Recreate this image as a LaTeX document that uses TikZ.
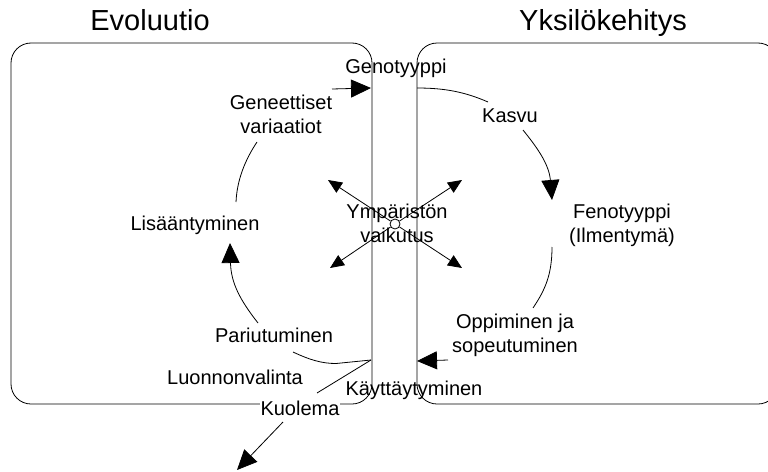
\documentclass[tikz,border=0pt]{standalone}
\usepackage{fontspec}
\setmainfont{Liberation Sans}
\usetikzlibrary{arrows.meta}
\begin{document}
\begin{tikzpicture}[x=1pt,y=-1pt,
  line width=0.8pt,
  panel/.style={draw, rounded corners=20pt},
  title/.style={font=\fontsize{29}{34}\selectfont, anchor=base, inner sep=0pt},
  lbl/.style={font=\fontsize{20}{23.5}\selectfont, anchor=base, inner sep=0pt, align=center},
  bigtip/.style={-{Triangle[length=20pt,width=18pt]}},
  smalltip/.style={-{Triangle[length=14pt,width=12pt]}}
]
\useasboundingbox (0,0) rectangle (768,471);
\clip (0,0) rectangle (768,471);

% the two panels
\draw[panel] (11,43) rectangle (372,404);
\draw[panel] (417,43) rectangle (778,404);

% headings
\node[title] (evo) at (150,30) {Evoluutio};
\node[title] (yks) at (603,30) {Yksilökehitys};

% labels
\node[lbl] (geno) at (396,73) {Genotyyppi};
\node[lbl] (genvar) at (281,133) {Geneettiset\\variaatiot};
\node[lbl] (kasvu) at (510,122) {Kasvu};
\node[lbl] (lisaa) at (195,230) {Lisääntyminen};
\node[lbl] (feno) at (622,242) {Fenotyyppi\\(Ilmentymä)};
\node[lbl] (ymp) at (397,242) {Ympäristön\\vaikutus};
\node[lbl] (oppi) at (515,352) {Oppiminen ja\\sopeutuminen};
\node[lbl] (pari) at (274,342) {Pariutuminen};
\node[lbl] (luon) at (235,384) {Luonnonvalinta};
\node[lbl, fill=white, inner xsep=1pt, inner ysep=2pt] (kuol) at (300,415) {Kuolema};
\node[lbl] (kayt) at (414,395) {Käyttäytyminen};

% environment influence
\node[draw, circle, fill=white, minimum size=10pt, inner sep=0pt] (env) at (395,224) {};
\coordinate (envUL) at (328,180);
\coordinate (envUR) at (462,180);
\coordinate (envLL) at (330,268);
\coordinate (envLR) at (462,268);
\draw[smalltip] (env) -- (envUL);
\draw[smalltip] (env) -- (envUR);
\draw[smalltip] (env) -- (envLL);
\draw[smalltip] (env) -- (envLR);

% connector end points
\coordinate (gvOut) at (332,89);
\coordinate (genoIn) at (371,88);
\coordinate (genoOut) at (417,88);
\coordinate (kasvuIn) at (488,102);
\coordinate (kasvuOut) at (523,130);
\coordinate (fenoIn) at (552,200);
\coordinate (fenoOut) at (552,247);
\coordinate (oppiIn) at (533,308);
\coordinate (oppiOut) at (448,360);
\coordinate (kaytR) at (417,361);
\coordinate (kaytL) at (371,360);
\coordinate (pariIn) at (293,352);
\coordinate (pariOut) at (258,323);
\coordinate (lisaaIn) at (230,243);
\coordinate (lisaaOut) at (236,202);
\coordinate (gvIn) at (257,142);
\coordinate (luonEnd) at (317,393);
\coordinate (kuolOut) at (283,422);
\coordinate (death) at (237,470);

% cycle of development
\draw[bigtip] (gvOut) -- (genoIn);
\draw (genoOut) .. controls (445,88) and (465,92) .. (kasvuIn);
\draw[bigtip] (kasvuOut) .. controls (535,145) and (549,163) .. (fenoIn);
\draw (fenoOut) .. controls (552,275) and (545,290) .. (oppiIn);
\draw[bigtip] (oppiOut) -- (kaytR);
\draw (kaytL) -- (336,363.5) .. controls (322,363.5) and (310,360) .. (pariIn);
\draw (kaytL) -- (luonEnd);
\draw[bigtip] (pariOut) .. controls (240,300) and (231,283) .. (lisaaIn);
\draw (lisaaOut) .. controls (237,180) and (245,160) .. (gvIn);
\draw[bigtip] (kuolOut) -- (death);
\end{tikzpicture}
\end{document}
